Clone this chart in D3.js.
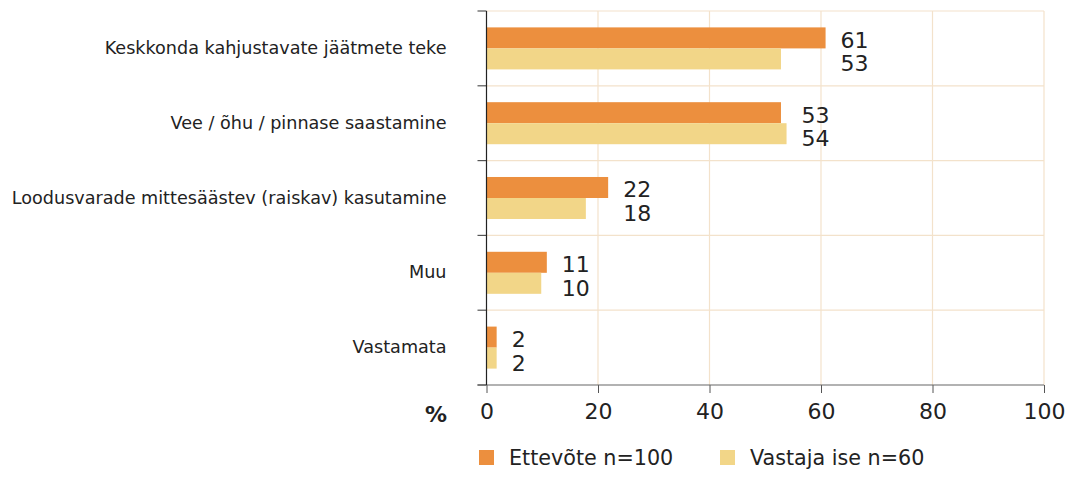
<!DOCTYPE html>
<html><head><meta charset="utf-8">
<script src="https://cdn.jsdelivr.net/npm/d3@7"></script>
<style>
body{margin:0;background:#fff;}
text{font-family:"DejaVu Sans",sans-serif;fill:#222;}
</style></head>
<body><svg id="c" width="1070" height="479"></svg>
<script>
const categories = ["Keskkonda kahjustavate jäätmete teke","Vee / õhu / pinnase saastamine","Loodusvarade mittesäästev (raiskav) kasutamine","Muu","Vastamata"];
const seriesNames = ["Ettevõte n=100","Vastaja ise n=60"];
const ettevote = [61, 53, 22, 11, 2];
const vastaja = [53, 54, 18, 10, 2];
const xTicks = [0,20,40,60,80,100];
const colors = ["#EC8F3E","#F2D688"];

const svg = d3.select("#c");
const m = {left:486.5, top:11, right:1070-1044, bottom:479-385};
const W = 1070, H = 479;
const x = d3.scaleLinear().domain([0,100]).range([m.left, W-m.right]);
const y0 = d3.scaleBand().domain(categories).range([m.top, H-m.bottom]);
const y1 = d3.scaleBand().domain(seriesNames).range([0, y0.bandwidth()]).paddingOuter(0.78);
const series = [ettevote, vastaja];

// grid
const g = svg.append("g");
g.selectAll("line.v").data(xTicks.slice(1)).join("line")
  .attr("x1",d=>x(d)).attr("x2",d=>x(d)).attr("y1",m.top).attr("y2",H-m.bottom)
  .attr("stroke","#F3E2CB").attr("stroke-width",1.2);
const bounds = categories.map(c=>y0(c));
g.selectAll("line.h").data(bounds).join("line")
  .attr("x1",m.left).attr("x2",x(100)).attr("y1",d=>d).attr("y2",d=>d)
  .attr("stroke","#F3E2CB").attr("stroke-width",1.2);

// bars
categories.forEach((c,i)=>{
  seriesNames.forEach((s,j)=>{
    svg.append("rect").attr("x",x(0)).attr("y",y0(c)+y1(s))
      .attr("width",x(series[j][i])-x(0)-1).attr("height",y1.bandwidth())
      .attr("fill",colors[j]);
  });
  const mx = Math.max(ettevote[i], vastaja[i]);
  seriesNames.forEach((s,j)=>{
    svg.append("text").attr("x",x(mx)+14)
      .attr("y",y0(c)+y1(s)+y1.bandwidth()/2+10+(j?2.5:0))
      .attr("font-size",22).text(series[j][i]);
  });
});

// x axis
const xa = svg.append("g").attr("transform",`translate(0,${H-m.bottom})`)
  .call(d3.axisBottom(x).tickValues(xTicks).tickSize(8).tickPadding(10).tickSizeOuter(0));
xa.select(".domain").remove();
xa.selectAll("line").attr("stroke","#555");
xa.selectAll("text").attr("font-size",22).attr("font-family","DejaVu Sans").attr("fill","#222");
svg.append("line").attr("x1",m.left-9).attr("x2",x(100)).attr("y1",H-m.bottom).attr("y2",H-m.bottom).attr("stroke","#666").attr("stroke-width",1.2);
svg.append("text").attr("x",447).attr("y",H-m.bottom+37).attr("text-anchor","end")
  .attr("font-size",22).attr("font-weight","bold").text("%");

// y axis
const ya = svg.append("g").attr("transform",`translate(${m.left},0)`)
  .call(d3.axisLeft(y0).tickSize(0).tickPadding(40));
ya.select(".domain").remove();
ya.selectAll("text").attr("font-size",17.6).attr("font-family","DejaVu Sans").attr("fill","#222");
svg.selectAll("line.yt").data(bounds.concat([H-m.bottom])).join("line")
  .attr("x1",m.left-9).attr("x2",m.left).attr("y1",d=>d).attr("y2",d=>d).attr("stroke","#555").attr("stroke-width",1.2);
svg.append("line").attr("x1",m.left).attr("x2",m.left).attr("y1",m.top).attr("y2",H-m.bottom).attr("stroke","#222").attr("stroke-width",1.2);

// legend
const lg = svg.append("g");
const lx = [479, 720];
seriesNames.forEach((s,j)=>{
  lg.append("rect").attr("x",lx[j]).attr("y",450).attr("width",15).attr("height",15).attr("fill",colors[j]);
  lg.append("text").attr("x",lx[j]+30).attr("y",465).attr("font-size",20.7).text(s);
});
</script></body></html>
